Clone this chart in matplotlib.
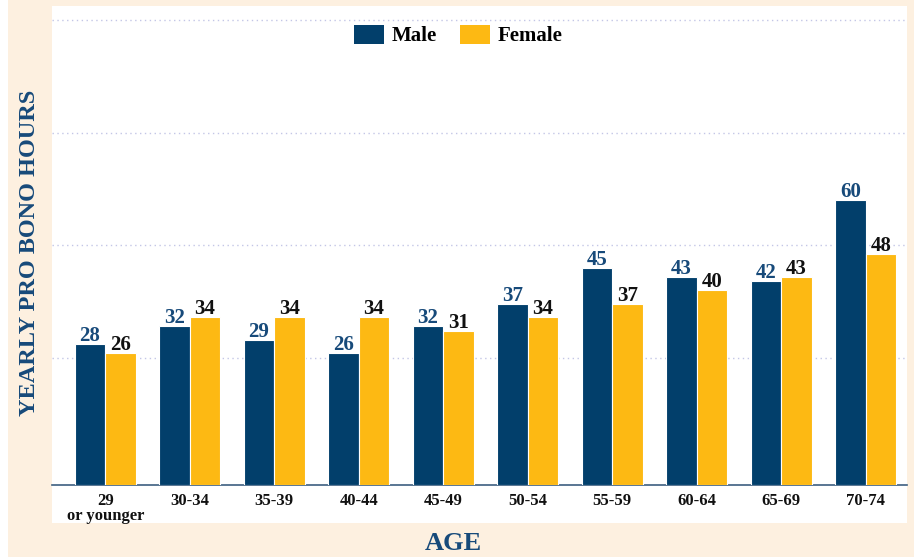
import matplotlib.pyplot as plt
import numpy as np
from matplotlib.patches import Patch, Rectangle

# data
ages = ["29\nor younger", "30-34", "35-39", "40-44", "45-49",
        "50-54", "55-59", "60-64", "65-69", "70-74"]
male = [28, 32, 29, 26, 32, 37, 45, 43, 42, 60]
female = [26, 34, 34, 34, 31, 34, 37, 40, 43, 48]
grid_vals = [25, 50, 75, 100]

NAVY = "#023f6b"
GOLD = "#fdb913"
CREAM = "#fdf0e0"
LABEL_BLUE = "#174a7a"
SERIF = "Liberation Serif"

W, H = 918, 557
fig = plt.figure(figsize=(W / 100, H / 100), dpi=100, facecolor="white")

# cream frame and white panel behind the plot + tick labels
fig.patches.append(Rectangle((8 / W, 0), 906 / W, 1, transform=fig.transFigure,
                             facecolor=CREAM, edgecolor="none", zorder=-2))
fig.patches.append(Rectangle((52 / W, (H - 523) / H), 855 / W, 517 / H,
                             transform=fig.transFigure, facecolor="white",
                             edgecolor="none", zorder=-1))

ax = fig.add_axes([52 / W, (H - 485) / H, 855 / W, 479 / H])
ax.set_facecolor("white")

ymin, ymax = -3.3, 103.1
x = np.arange(len(ages))
w = 0.36

ax.bar(x - w / 2, np.array(male) - ymin, w, bottom=ymin, color=NAVY,
       edgecolor="white", linewidth=0.8, zorder=3)
ax.bar(x + w / 2, np.array(female) - ymin, w, bottom=ymin, color=GOLD,
       edgecolor="white", linewidth=0.8, zorder=3)

for xi, m, f in zip(x, male, female):
    ax.annotate(str(m), (xi - w / 2, m), xytext=(0, 2.2), textcoords="offset points",
                ha="center", va="baseline", fontsize=15, fontweight="bold",
                family=SERIF, color=LABEL_BLUE, zorder=4)
    ax.annotate(str(f), (xi + w / 2, f), xytext=(0, 2.2), textcoords="offset points",
                ha="center", va="baseline", fontsize=15, fontweight="bold",
                family=SERIF, color="#111111", zorder=4)

ax.set_xlim(-0.63, 9.49)
ax.set_ylim(ymin, ymax)
ax.set_yticks(grid_vals)
ax.set_yticklabels([])
ax.tick_params(axis="y", length=0)
ax.grid(axis="y", linestyle=(0, (1, 2.5)), color="#c3c6e6", linewidth=1, zorder=0)

ax.set_xticks(x)
ax.set_xticklabels(ages, fontsize=12, fontweight="bold", family=SERIF,
                   color="#111111", linespacing=0.85)
ax.tick_params(axis="x", length=0, pad=6)

for side in ["top", "right", "left"]:
    ax.spines[side].set_visible(False)
ax.spines["bottom"].set_color("#3d5f80")
ax.spines["bottom"].set_linewidth(1.2)

handles = [Patch(facecolor=NAVY, label="Male"), Patch(facecolor=GOLD, label="Female")]
ax.legend(handles=handles, loc="center", bbox_to_anchor=(0.475, 0.938), ncol=2,
          frameon=False, prop={"family": SERIF, "weight": "bold", "size": 15},
          handlelength=1.44, handleheight=1.0, handletextpad=0.38,
          columnspacing=1.1, borderpad=0)

fig.text(30 / W, (H - 253) / H, "YEARLY PRO BONO HOURS", rotation=90,
         ha="center", va="center", fontsize=17.5, fontweight="bold",
         family=SERIF, color=LABEL_BLUE)
fig.text(453 / W, (H - 544) / H, "AGE", ha="center", va="center",
         fontsize=19, fontweight="bold", family=SERIF, color=LABEL_BLUE)

fig.savefig("out.png", dpi=100, facecolor=fig.get_facecolor())
